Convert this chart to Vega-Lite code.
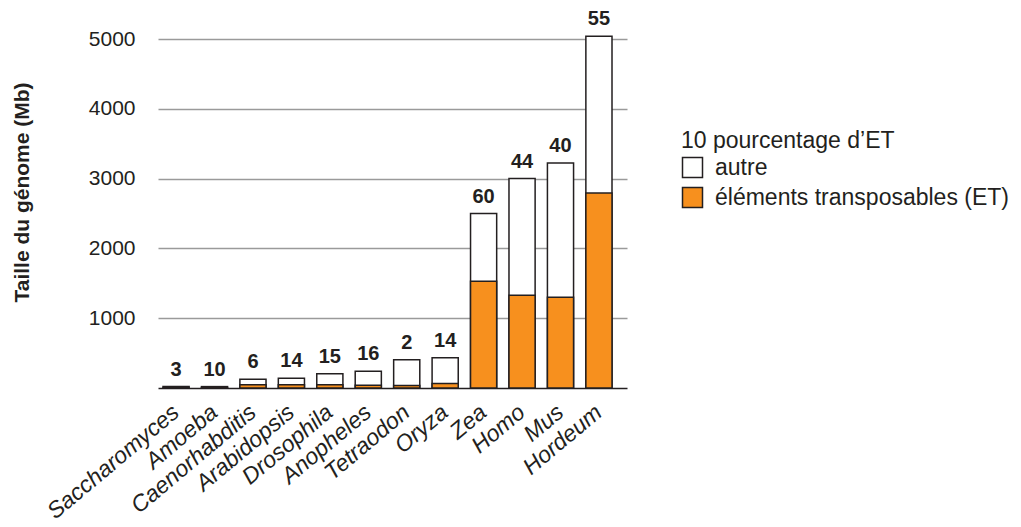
{
  "$schema": "https://vega.github.io/schema/vega-lite/v6.json",
  "width": 469,
  "height": 349,
  "autosize": {"type": "none"},
  "padding": {"left": 158, "top": 39, "right": 394, "bottom": 139},
  "background": "white",
  "config": {"view": {"stroke": null}, "font": "Liberation Sans"},
  "data": {
    "values": [
      {"species": "Saccharomyces", "total": 20, "et": 0.6, "pct": 3},
      {"species": "Amoeba", "total": 20, "et": 2, "pct": 10},
      {"species": "Caenorhabditis", "total": 125, "et": 46, "pct": 6},
      {"species": "Arabidopsis", "total": 140, "et": 46, "pct": 14},
      {"species": "Drosophila", "total": 205, "et": 45, "pct": 15},
      {"species": "Anopheles", "total": 240, "et": 38, "pct": 16},
      {"species": "Tetraodon", "total": 406, "et": 35, "pct": 2},
      {"species": "Oryza", "total": 434, "et": 64, "pct": 14},
      {"species": "Zea", "total": 2500, "et": 1530, "pct": 60},
      {"species": "Homo", "total": 3000, "et": 1330, "pct": 44},
      {"species": "Mus", "total": 3225, "et": 1300, "pct": 40},
      {"species": "Hordeum", "total": 5040, "et": 2795, "pct": 55}
    ]
  },
  "encoding": {
    "x": {
      "field": "species",
      "type": "nominal",
      "sort": null,
      "scale": {"paddingInner": 0.32, "paddingOuter": 0.26, "align": 0.25},
      "axis": {
        "title": null,
        "domainColor": "#231f20",
        "domainWidth": 1.5,
        "ticks": false,
        "grid": false,
        "labelAngle": -40,
        "labelAlign": "right",
        "labelBaseline": "middle",
        "labelFontSize": 23,
        "labelFontStyle": "italic",
        "labelColor": "#231f20",
        "labelPadding": 21,
        "labelLimit": 300
      }
    }
  },
  "layer": [
    {
      "mark": {"type": "bar", "stroke": "#231f20", "strokeWidth": 1.5},
      "encoding": {
        "y": {
          "field": "total",
          "type": "quantitative",
          "title": "Taille du génome (Mb)",
          "scale": {"domain": [0, 5000], "nice": false},
          "axis": {
            "values": [1000, 2000, 3000, 4000, 5000],
            "format": "d",
            "domain": false,
            "ticks": false,
            "labelPadding": 23,
            "labelFontSize": 21,
            "labelColor": "#231f20",
            "gridColor": "#9a9a9a",
            "gridWidth": 1.3,
            "titleFontSize": 21,
            "titleFontWeight": "bold",
            "titleColor": "#231f20",
            "titleX": -136,
            "titleY": 153,
            "titleBaseline": "middle",
            "titleAlign": "center"
          }
        },
        "fill": {
          "datum": "autre",
          "type": "nominal",
          "scale": {"domain": ["autre", "éléments transposables (ET)"], "range": ["#ffffff", "#f7901e"]},
          "legend": {
            "title": "10 pourcentage d’ET",
            "orient": "none",
            "legendX": 523,
            "legendY": 91,
            "titleFontSize": 23,
            "titleFontWeight": "normal",
            "titleColor": "#231f20",
            "titlePadding": 3,
            "titleLimit": 400,
            "labelFontSize": 23,
            "labelColor": "#231f20",
            "labelLimit": 400,
            "labelOffset": 11,
            "rowPadding": 3,
            "symbolType": "square",
            "symbolSize": 400,
            "symbolStrokeColor": "#231f20",
            "symbolStrokeWidth": 1.5,
            "symbolOpacity": 1
          }
        }
      }
    },
    {
      "mark": {"type": "bar", "stroke": "#231f20", "strokeWidth": 1.5},
      "encoding": {
        "y": {"field": "et", "type": "quantitative", "title": "Taille du génome (Mb)"},
        "fill": {"datum": "éléments transposables (ET)", "type": "nominal"}
      }
    },
    {
      "mark": {"type": "text", "dy": -11, "baseline": "alphabetic", "fontWeight": "bold", "fontSize": 20, "color": "#231f20"},
      "encoding": {
        "y": {"field": "total", "type": "quantitative", "title": "Taille du génome (Mb)"},
        "text": {"field": "pct", "type": "quantitative"}
      }
    }
  ]
}
